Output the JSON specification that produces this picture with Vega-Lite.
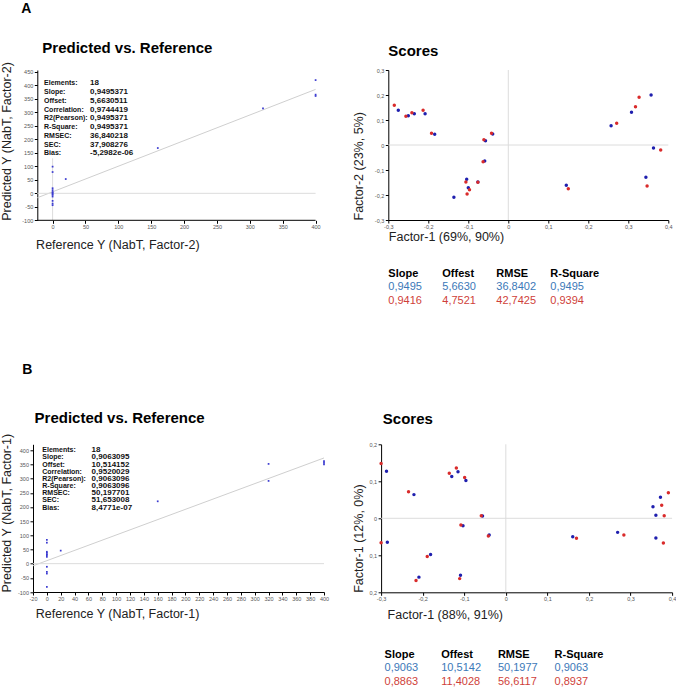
{
  "$schema": "https://vega.github.io/schema/vega-lite/v6.json",
  "padding": {"left": 0, "top": 2, "right": 0, "bottom": 0},
  "background": "white",
  "config": {
    "font": "Liberation Sans",
    "view": {"stroke": null},
    "axis": {"grid": false, "domainColor": "#000", "tickColor": "#000", "tickSize": 3, "labelFontSize": 5.5, "labelColor": "#555", "labelPadding": 1.5, "titleFontSize": 12.5, "titleFontWeight": "normal", "titleColor": "#222", "labelOverlap": false, "labelFlush": false, "tickCount": 1000},
    "title": {"anchor": "start", "fontSize": 15, "fontWeight": "bold", "color": "#000", "frame": "group"}
  },
  "datasets": {
    "pvA": [{"ref":0,"pred":99},{"ref":0,"pred":79},{"ref":0,"pred":19},{"ref":0,"pred":12},{"ref":0,"pred":5},{"ref":0,"pred":2},{"ref":0,"pred":-2},{"ref":0,"pred":-6},{"ref":0,"pred":-12},{"ref":0,"pred":-28},{"ref":0,"pred":-38},{"ref":0,"pred":-44},{"ref":20,"pred":53},{"ref":160,"pred":168},{"ref":320,"pred":315},{"ref":400,"pred":420},{"ref":400,"pred":366},{"ref":400,"pred":361}],
    "regA": [{"ref":-23.3,"pred":-16.5},{"ref":400,"pred":385.5}],
    "statsA": [{"i":1,"label":"Elements:","value":"18"},{"i":2,"label":"Slope:","value":"0,9495371"},{"i":3,"label":"Offset:","value":"5,6630511"},{"i":4,"label":"Correlation:","value":"0,9744419"},{"i":5,"label":"R2(Pearson):","value":"0,9495371"},{"i":6,"label":"R-Square:","value":"0,9495371"},{"i":7,"label":"RMSEC:","value":"36,840218"},{"i":8,"label":"SEC:","value":"37,908276"},{"i":9,"label":"Bias:","value":"-5,2982e-06"}],
    "pvB": [{"ref":0,"pred":84},{"ref":0,"pred":74},{"ref":0,"pred":42},{"ref":0,"pred":38},{"ref":0,"pred":33},{"ref":0,"pred":30},{"ref":0,"pred":24},{"ref":0,"pred":-11},{"ref":0,"pred":-29},{"ref":0,"pred":-35},{"ref":0,"pred":-82},{"ref":20,"pred":46},{"ref":160,"pred":220},{"ref":320,"pred":352},{"ref":320,"pred":292},{"ref":400,"pred":362},{"ref":400,"pred":356},{"ref":400,"pred":350}],
    "regB": [{"ref":-20,"pred":-7.6},{"ref":400,"pred":373.0}],
    "statsB": [{"i":1,"label":"Elements:","value":"18"},{"i":2,"label":"Slope:","value":"0,9063095"},{"i":3,"label":"Offset:","value":"10,514152"},{"i":4,"label":"Correlation:","value":"0,9520029"},{"i":5,"label":"R2(Pearson):","value":"0,9063096"},{"i":6,"label":"R-Square:","value":"0,9063096"},{"i":7,"label":"RMSEC:","value":"50,197701"},{"i":8,"label":"SEC:","value":"51,653008"},{"i":9,"label":"Bias:","value":"8,4771e-07"}],
    "scA": [
      {"f1":-0.275,"f2":0.139,"s":"b"},{"f1":-0.250,"f2":0.117,"s":"b"},{"f1":-0.235,"f2":0.125,"s":"b"},{"f1":-0.208,"f2":0.125,"s":"b"},{"f1":-0.184,"f2":0.043,"s":"b"},{"f1":-0.136,"f2":-0.209,"s":"b"},{"f1":-0.104,"f2":-0.137,"s":"b"},{"f1":-0.100,"f2":-0.171,"s":"b"},{"f1":-0.076,"f2":-0.148,"s":"b"},{"f1":-0.059,"f2":-0.064,"s":"b"},{"f1":-0.057,"f2":0.017,"s":"b"},{"f1":-0.039,"f2":0.044,"s":"b"},{"f1":0.145,"f2":-0.161,"s":"b"},{"f1":0.257,"f2":0.077,"s":"b"},{"f1":0.308,"f2":0.131,"s":"b"},{"f1":0.357,"f2":0.200,"s":"b"},{"f1":0.363,"f2":-0.012,"s":"b"},{"f1":0.344,"f2":-0.129,"s":"b"},
      {"f1":-0.285,"f2":0.159,"s":"r"},{"f1":-0.256,"f2":0.115,"s":"r"},{"f1":-0.241,"f2":0.129,"s":"r"},{"f1":-0.213,"f2":0.139,"s":"r"},{"f1":-0.192,"f2":0.047,"s":"r"},{"f1":-0.106,"f2":-0.148,"s":"r"},{"f1":-0.103,"f2":-0.196,"s":"r"},{"f1":-0.097,"f2":-0.179,"s":"r"},{"f1":-0.076,"f2":-0.149,"s":"r"},{"f1":-0.063,"f2":-0.067,"s":"r"},{"f1":-0.061,"f2":0.021,"s":"r"},{"f1":-0.042,"f2":0.047,"s":"r"},{"f1":0.150,"f2":-0.175,"s":"r"},{"f1":0.271,"f2":0.087,"s":"r"},{"f1":0.318,"f2":0.153,"s":"r"},{"f1":0.327,"f2":0.191,"s":"r"},{"f1":0.381,"f2":-0.020,"s":"r"},{"f1":0.347,"f2":-0.164,"s":"r"}
    ],
    "scB": [
      {"f1":-0.287,"f2":0.127,"s":"b"},{"f1":-0.285,"f2":-0.065,"s":"b"},{"f1":-0.221,"f2":0.064,"s":"b"},{"f1":-0.209,"f2":-0.159,"s":"b"},{"f1":-0.181,"f2":-0.098,"s":"b"},{"f1":-0.130,"f2":0.113,"s":"b"},{"f1":-0.115,"f2":0.126,"s":"b"},{"f1":-0.109,"f2":-0.154,"s":"b"},{"f1":-0.103,"f2":-0.020,"s":"b"},{"f1":-0.096,"f2":0.102,"s":"b"},{"f1":-0.056,"f2":0.006,"s":"b"},{"f1":-0.040,"f2":-0.045,"s":"b"},{"f1":0.161,"f2":-0.050,"s":"b"},{"f1":0.269,"f2":-0.038,"s":"b"},{"f1":0.354,"f2":0.031,"s":"b"},{"f1":0.361,"f2":0.008,"s":"b"},{"f1":0.372,"f2":0.057,"s":"b"},{"f1":0.361,"f2":-0.053,"s":"b"},
      {"f1":-0.300,"f2":0.148,"s":"r"},{"f1":-0.300,"f2":-0.066,"s":"r"},{"f1":-0.234,"f2":0.072,"s":"r"},{"f1":-0.216,"f2":-0.168,"s":"r"},{"f1":-0.189,"f2":-0.103,"s":"r"},{"f1":-0.136,"f2":0.122,"s":"r"},{"f1":-0.119,"f2":0.136,"s":"r"},{"f1":-0.111,"f2":-0.163,"s":"r"},{"f1":-0.108,"f2":-0.018,"s":"r"},{"f1":-0.099,"f2":0.110,"s":"r"},{"f1":-0.059,"f2":0.007,"s":"r"},{"f1":-0.042,"f2":-0.048,"s":"r"},{"f1":0.170,"f2":-0.054,"s":"r"},{"f1":0.284,"f2":-0.045,"s":"r"},{"f1":0.375,"f2":0.035,"s":"r"},{"f1":0.381,"f2":0.007,"s":"r"},{"f1":0.391,"f2":0.069,"s":"r"},{"f1":0.379,"f2":-0.067,"s":"r"}
    ],
    "tabA": [
      {"row":"h","col":"Slope","v":"Slope"},{"row":"h","col":"Offest","v":"Offest"},{"row":"h","col":"RMSE","v":"RMSE"},{"row":"h","col":"R-Square","v":"R-Square"},
      {"row":"m1","col":"Slope","v":"0,9495"},{"row":"m1","col":"Offest","v":"5,6630"},{"row":"m1","col":"RMSE","v":"36,8402"},{"row":"m1","col":"R-Square","v":"0,9495"},
      {"row":"m2","col":"Slope","v":"0,9416"},{"row":"m2","col":"Offest","v":"4,7521"},{"row":"m2","col":"RMSE","v":"42,7425"},{"row":"m2","col":"R-Square","v":"0,9394"}
    ],
    "tabB": [
      {"row":"h","col":"Slope","v":"Slope"},{"row":"h","col":"Offest","v":"Offest"},{"row":"h","col":"RMSE","v":"RMSE"},{"row":"h","col":"R-Square","v":"R-Square"},
      {"row":"m1","col":"Slope","v":"0,9063"},{"row":"m1","col":"Offest","v":"10,5142"},{"row":"m1","col":"RMSE","v":"50,1977"},{"row":"m1","col":"R-Square","v":"0,9063"},
      {"row":"m2","col":"Slope","v":"0,8863"},{"row":"m2","col":"Offest","v":"11,4028"},{"row":"m2","col":"RMSE","v":"56,6117"},{"row":"m2","col":"R-Square","v":"0,8937"}
    ]
  },
  "spacing": 56.3,
  "vconcat": [
    {
      "title": {"text": "A", "fontSize": 14, "frame": "bounds", "dx": 21, "offset": 24.7},
      "spacing": 31.3,
      "hconcat": [
        {
          "width": 282.6, "height": 150.3,
          "title": {"text": "Predicted vs. Reference", "dx": 9.3, "offset": 5.3},
          "resolve": {"scale": {"y": "independent"}},
          "layer": [
            {"layer": [
              {"data": {"name": "regA"}, "mark": {"type": "line", "color": "#cfcfcf", "strokeWidth": 1},
               "encoding": {
                 "x": {"field": "ref", "type": "quantitative", "scale": {"domain": [-29.8, 400], "nice": false, "zero": false},
                       "axis": {"values": [0,50,100,150,200,250,300,350,400], "tickCount": 1000, "labelExpr": "''+datum.value", "labelOverlap": false, "domain": false, "title": "Reference Y (NabT, Factor-2)", "titleAnchor": "start", "titleAlign": "left", "titleX": 2.6, "titlePadding": 7.8}},
                 "y": {"field": "pred", "type": "quantitative", "scale": {"domain": [-100, 457.4], "nice": false, "zero": false},
                       "axis": {"values": [-100,-50,0,50,100,150,200,250,300,350,400,450], "tickCount": 1000, "labelExpr": "''+datum.value", "labelOverlap": false, "offset": -4.3, "title": "Predicted Y (NabT, Factor-2)", "titleAnchor": "start", "titlePadding": 8.6}}
               }},
              {"data": {"values": [{}]}, "mark": {"type": "rule", "color": "#dcdcdc"}, "encoding": {"x": {"datum": -23.3}, "x2": {"datum": 400}, "y": {"datum": 0}}},
              {"data": {"values": [{}]}, "mark": {"type": "rule", "color": "#dcdcdc"}, "encoding": {"x": {"datum": 0}, "y": {"datum": -100}, "y2": {"datum": 130}}},
              {"data": {"values": [{}]}, "mark": {"type": "rule", "color": "#000", "strokeWidth": 1}, "encoding": {"x": {"datum": -23.3}, "x2": {"datum": 400}, "y": {"datum": -100}}},
              {"data": {"name": "pvA"}, "mark": {"type": "square", "size": 3, "color": "#3a3ad0", "opacity": 1},
               "encoding": {"x": {"field": "ref", "type": "quantitative"}, "y": {"field": "pred", "type": "quantitative"}}}
            ]},
            {"data": {"name": "statsA"}, "layer": [
              {"mark": {"type": "text", "align": "left", "baseline": "middle", "fontSize": 7, "fontWeight": "bold", "color": "#111"},
               "encoding": {"x": {"datum": -13}, "y": {"field": "i", "type": "quantitative", "scale": {"domain": [-0.52, 16.66], "reverse": true, "nice": false, "zero": false}, "axis": null}, "text": {"field": "label"}}},
              {"mark": {"type": "text", "align": "left", "baseline": "middle", "fontSize": 8, "fontWeight": "bold", "color": "#111"},
               "encoding": {"x": {"datum": 57}, "y": {"field": "i", "type": "quantitative", "axis": null}, "text": {"field": "value"}}}
            ]}
          ]
        },
        {
          "bounds": "flush",
          "spacing": 56.6,
          "vconcat": [
            {
              "width": 280, "height": 150,
              "title": {"text": "Scores", "offset": 8.7},
              "layer": [
                {"data": {"values": [{}]}, "mark": {"type": "rule", "color": "#dcdcdc"}, "encoding": {"x": {"datum": 0}}},
                {"data": {"values": [{}]}, "mark": {"type": "rule", "color": "#dcdcdc"}, "encoding": {"y": {"datum": 0}}},
                {"data": {"name": "scA"}, "transform": [{"filter": "datum.s == 'b'"}], "mark": {"type": "circle", "size": 12, "opacity": 1, "color": "#1f1fae"},
                 "encoding": {
                   "x": {"field": "f1", "type": "quantitative", "scale": {"domain": [-0.3, 0.4], "nice": false, "zero": false},
                         "axis": {"values": [-0.3,-0.2,-0.1,0,0.1,0.2,0.3,0.4], "tickCount": 1000, "labelExpr": "datum.value == 0 ? '0' : replace(''+datum.value, '.', ',')", "labelOverlap": false, "title": "Factor-1 (69%, 90%)", "titleAnchor": "start", "titlePadding": 0}},
                   "y": {"field": "f2", "type": "quantitative", "scale": {"domain": [-0.3, 0.3], "nice": false, "zero": false},
                         "axis": {"values": [-0.3,-0.2,-0.1,0,0.1,0.2,0.3], "tickCount": 1000, "labelExpr": "datum.value == 0 ? '0' : replace(''+datum.value, '.', ',')", "labelOverlap": false, "title": "Factor-2 (23%, 5%)", "titleAnchor": "start", "titlePadding": 9}}
                 }},
                {"data": {"name": "scA"}, "transform": [{"filter": "datum.s == 'r'"}], "mark": {"type": "circle", "size": 12, "opacity": 1, "color": "#d92b2b"},
                 "encoding": {"x": {"field": "f1", "type": "quantitative"}, "y": {"field": "f2", "type": "quantitative"}}}
              ]
            },
            {
              "width": 280, "height": 27,
              "data": {"name": "tabA"},
              "encoding": {
                "x": {"field": "col", "type": "nominal", "scale": {"type": "point", "domain": ["Slope","Offest","RMSE","R-Square","_"], "padding": 0.593, "align": 0}, "axis": null},
                "y": {"field": "row", "type": "nominal", "scale": {"type": "point", "domain": ["h","m1","m2"], "padding": 0}, "axis": null},
                "text": {"field": "v"}
              },
              "layer": [
                {"transform": [{"filter": "datum.row == 'h'"}], "mark": {"type": "text", "align": "left", "baseline": "alphabetic", "fontSize": 11, "fontWeight": "bold", "color": "#000"}},
                {"transform": [{"filter": "datum.row == 'm1'"}], "mark": {"type": "text", "align": "left", "baseline": "alphabetic", "fontSize": 11, "color": "#3b78b8"}},
                {"transform": [{"filter": "datum.row == 'm2'"}], "mark": {"type": "text", "align": "left", "baseline": "alphabetic", "fontSize": 11, "color": "#cf3f3a"}}
              ]
            }
          ]
        }
      ]
    },
    {
      "title": {"text": "B", "fontSize": 14, "frame": "bounds", "dx": 22, "offset": 34.5},
      "spacing": 22.1,
      "hconcat": [
        {
          "width": 291, "height": 147.7,
          "title": {"text": "Predicted vs. Reference", "dx": 1.6, "offset": 6.5},
          "resolve": {"scale": {"y": "independent"}},
          "layer": [
            {"layer": [
              {"data": {"name": "regB"}, "mark": {"type": "line", "color": "#cfcfcf", "strokeWidth": 1},
               "encoding": {
                 "x": {"field": "ref", "type": "quantitative", "scale": {"domain": [-20, 400], "nice": false, "zero": false},
                       "axis": {"values": [-20,0,20,40,60,80,100,120,140,160,180,200,220,240,260,280,300,320,340,360,380,400], "tickCount": 1000, "labelExpr": "''+datum.value", "labelOverlap": false, "title": "Reference Y (NabT, Factor-1)", "titleAnchor": "start", "titleAlign": "left", "titleX": 2.3, "titlePadding": 5}},
                 "y": {"field": "pred", "type": "quantitative", "scale": {"domain": [-100, 421.2], "nice": false, "zero": false},
                       "axis": {"values": [-100,-50,0,50,100,150,200,250,300,350,400], "tickCount": 1000, "labelExpr": "''+datum.value", "labelOverlap": false, "title": "Predicted Y (NabT, Factor-1)", "titleAnchor": "start", "titlePadding": 4.3}}
               }},
              {"data": {"values": [{}]}, "mark": {"type": "rule", "color": "#dcdcdc"}, "encoding": {"y": {"datum": 0}}},
              {"data": {"name": "pvB"}, "mark": {"type": "square", "size": 3, "color": "#3a3ad0", "opacity": 1},
               "encoding": {"x": {"field": "ref", "type": "quantitative"}, "y": {"field": "pred", "type": "quantitative"}}}
            ]},
            {"data": {"name": "statsB"}, "layer": [
              {"mark": {"type": "text", "align": "left", "baseline": "middle", "fontSize": 7, "fontWeight": "bold", "color": "#111"},
               "encoding": {"x": {"datum": -6.6}, "y": {"field": "i", "type": "quantitative", "scale": {"domain": [0.163, 20.763], "reverse": true, "nice": false, "zero": false}, "axis": null}, "text": {"field": "label"}}},
              {"mark": {"type": "text", "align": "left", "baseline": "middle", "fontSize": 8, "fontWeight": "bold", "color": "#111"},
               "encoding": {"x": {"datum": 64.6}, "y": {"field": "i", "type": "quantitative", "axis": null}, "text": {"field": "value"}}}
            ]}
          ]
        },
        {
          "bounds": "flush",
          "spacing": 65.7,
          "vconcat": [
            {
              "width": 291, "height": 148,
              "title": {"text": "Scores", "dx": 1.7, "offset": 14.9},
              "layer": [
                {"data": {"values": [{}]}, "mark": {"type": "rule", "color": "#dcdcdc"}, "encoding": {"x": {"datum": 0}}},
                {"data": {"values": [{}]}, "mark": {"type": "rule", "color": "#dcdcdc"}, "encoding": {"y": {"datum": 0}}},
                {"data": {"name": "scB"}, "transform": [{"filter": "datum.s == 'b'"}], "mark": {"type": "circle", "size": 12, "opacity": 1, "color": "#1f1fae"},
                 "encoding": {
                   "x": {"field": "f1", "type": "quantitative", "scale": {"domain": [-0.3, 0.4], "nice": false, "zero": false},
                         "axis": {"values": [-0.3,-0.2,-0.1,0,0.1,0.2,0.3,0.4], "tickCount": 1000, "labelExpr": "datum.value == 0 ? '0' : replace(''+datum.value, '.', ',')", "labelOverlap": false, "title": "Factor-1 (88%, 91%)", "titleAnchor": "start", "titleAlign": "left", "titleX": 6, "titlePadding": 6.5}},
                   "y": {"field": "f2", "type": "quantitative", "scale": {"domain": [-0.2, 0.2], "nice": false, "zero": false},
                         "axis": {"values": [-0.2,-0.1,0,0.1,0.2], "tickCount": 1000, "labelExpr": "datum.value == 0 ? '0' : replace(replace(''+datum.value, '.', ','), '-', '')", "labelOverlap": false, "title": "Factor-1 (12%, 0%)", "titleAnchor": "start", "titlePadding": 3.9}}
                 }},
                {"data": {"name": "scB"}, "transform": [{"filter": "datum.s == 'r'"}], "mark": {"type": "circle", "size": 12, "opacity": 1, "color": "#d92b2b"},
                 "encoding": {"x": {"field": "f1", "type": "quantitative"}, "y": {"field": "f2", "type": "quantitative"}}}
              ]
            },
            {
              "width": 291, "height": 26.6,
              "data": {"name": "tabB"},
              "encoding": {
                "x": {"field": "col", "type": "nominal", "scale": {"type": "point", "domain": ["Slope","Offest","RMSE","R-Square","_"], "padding": 0.568, "align": 0.054}, "axis": null},
                "y": {"field": "row", "type": "nominal", "scale": {"type": "point", "domain": ["h","m1","m2"], "padding": 0}, "axis": null},
                "text": {"field": "v"}
              },
              "layer": [
                {"transform": [{"filter": "datum.row == 'h'"}], "mark": {"type": "text", "align": "left", "baseline": "alphabetic", "fontSize": 11, "fontWeight": "bold", "color": "#000"}},
                {"transform": [{"filter": "datum.row == 'm1'"}], "mark": {"type": "text", "align": "left", "baseline": "alphabetic", "fontSize": 11, "color": "#3b78b8"}},
                {"transform": [{"filter": "datum.row == 'm2'"}], "mark": {"type": "text", "align": "left", "baseline": "alphabetic", "fontSize": 11, "color": "#cf3f3a"}}
              ]
            }
          ]
        }
      ]
    }
  ]
}
